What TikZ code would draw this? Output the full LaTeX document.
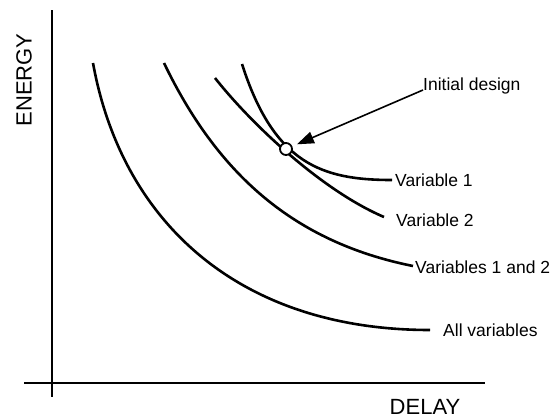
\documentclass[tikz,border=0pt]{standalone}
\usepackage{fontspec}
\setmainfont{Liberation Sans}
\usetikzlibrary{arrows.meta}
\begin{document}
\begin{tikzpicture}[x=1pt,y=-1pt,
  axisline/.style={line width=2.8pt},
  curve/.style={line width=2.6pt},
  lbl/.style={inner sep=0pt, anchor=base west, font=\fontsize{17.5}{20}\selectfont},
  axlbl/.style={inner sep=0pt, font=\fontsize{22}{26}\selectfont},
  design/.style={circle, draw, line width=1.8pt, fill=white, minimum size=12pt, inner sep=0pt},
  pointer/.style={line width=1.6pt, -{Triangle[length=17pt,width=12pt]}, shorten >=5pt}]
\useasboundingbox (0,0) rectangle (557,418);
% axes
\coordinate (ytop) at (52,10);
\coordinate (ybot) at (52,397);
\coordinate (xl) at (24,383);
\coordinate (xr) at (485,383);
\draw[axisline] (ytop) -- (ybot);
\draw[axisline] (xl) -- (xr);
\node[axlbl, rotate=90] (energy) at (24,80) {ENERGY};
\node[axlbl] (delay) at (425,407) {DELAY};
% curves
\coordinate (a0) at (93,63);   \coordinate (a1) at (430,330);
\coordinate (b0) at (164,63);  \coordinate (b1) at (413,266);
\coordinate (c0) at (215,78);  \coordinate (c1) at (384,217);
\coordinate (d0) at (242,64);  \coordinate (d1) at (392,180);
\draw[curve] (a0) .. controls (122,223) and (240,330) .. (a1);
\draw[curve] (b0) .. controls (217,173) and (293,242) .. (b1);
\draw[curve] (c0) .. controls (253,126) and (323,191) .. (c1);
\draw[curve] (d0) .. controls (274,164) and (322,180) .. (d1);
% labels
\node[lbl] (v1) at (395,186) {Variable 1};
\node[lbl] (v2) at (396,226) {Variable 2};
\node[lbl] (v12) at (415,273) {Variables 1 and 2};
\node[lbl] (all) at (443,336) {All variables};
\node[lbl] (init) at (423,90) {Initial design};
% initial design point
\node[design] (pt) at (286,149) {};
\draw[pointer] (init.base west) -- (pt);
\end{tikzpicture}
\end{document}
